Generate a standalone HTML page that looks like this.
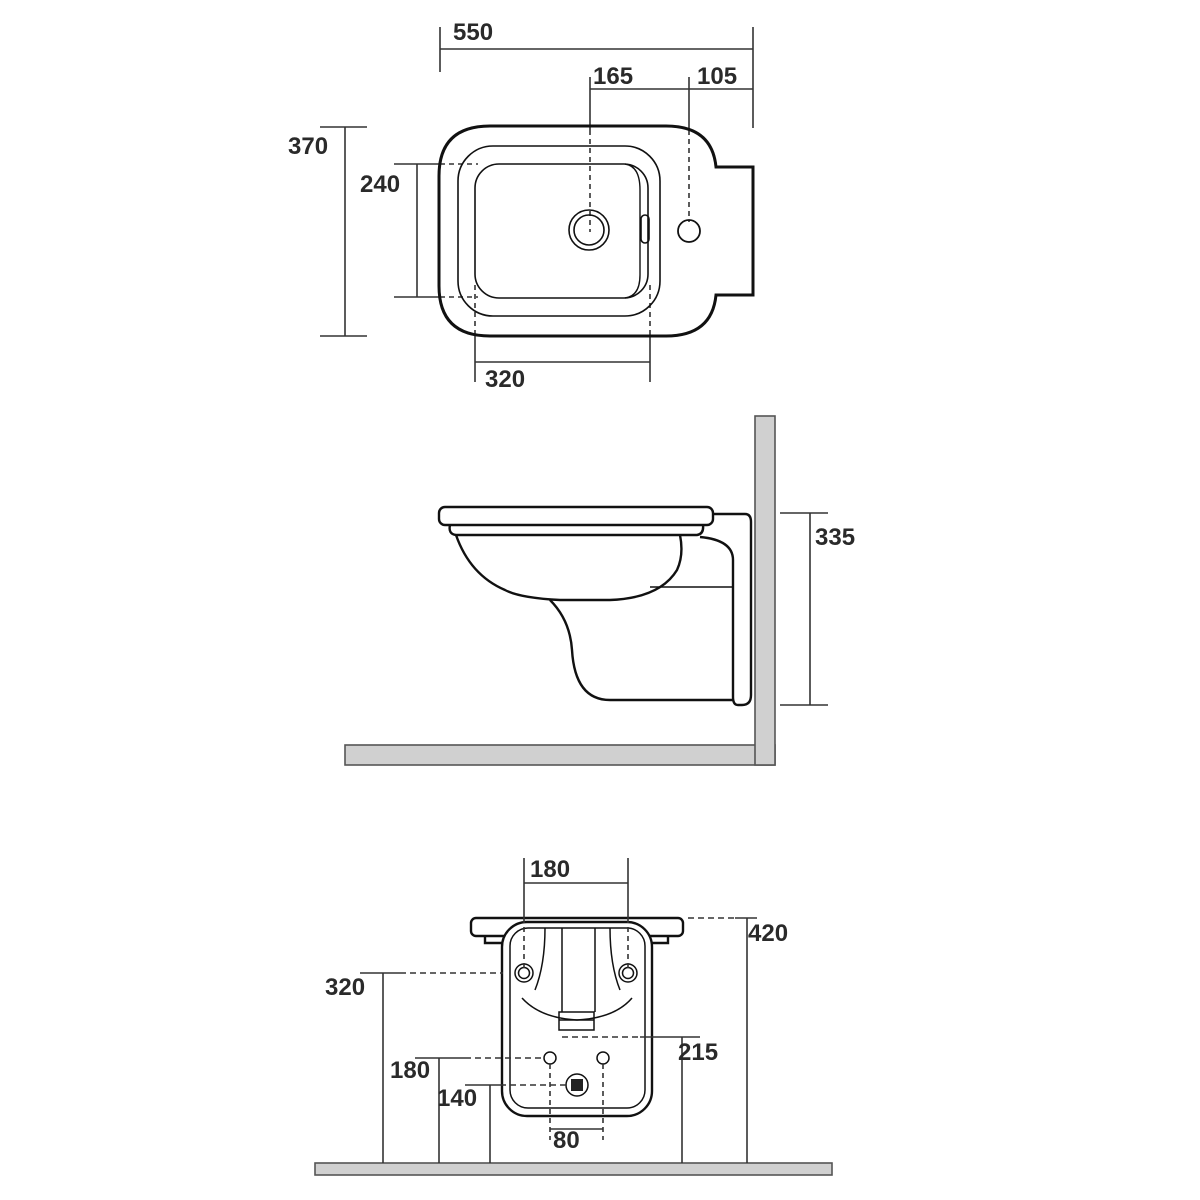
<!DOCTYPE html>
<html><head><meta charset="utf-8"><style>html,body{margin:0;padding:0;background:#fff}svg{display:block}text{font-family:"Liberation Sans",Arial,sans-serif;font-weight:bold;font-size:24px;fill:#2a2a2a}</style></head><body>
<svg width="1200" height="1200" viewBox="0 0 1200 1200" xmlns="http://www.w3.org/2000/svg">
<g fill="none" stroke="#333" stroke-width="1.6">
<line x1="440" y1="27" x2="440" y2="72"/><line x1="753" y1="27" x2="753" y2="128"/>
<line x1="440" y1="49" x2="753" y2="49"/>
<line x1="590" y1="89" x2="753" y2="89"/>
<line x1="590" y1="77" x2="590" y2="130"/><line x1="689" y1="77" x2="689" y2="130"/>
<line x1="590" y1="130" x2="590" y2="232" stroke-dasharray="5,4"/>
<line x1="689" y1="130" x2="689" y2="222" stroke-dasharray="5,4"/>
<line x1="345" y1="127" x2="345" y2="336"/>
<line x1="320" y1="127" x2="367" y2="127"/><line x1="320" y1="336" x2="367" y2="336"/>
<line x1="417" y1="164" x2="417" y2="297"/>
<line x1="394" y1="164" x2="440" y2="164"/><line x1="394" y1="297" x2="440" y2="297"/>
<line x1="440" y1="164" x2="478" y2="164" stroke-dasharray="5,4"/><line x1="440" y1="297" x2="478" y2="297" stroke-dasharray="5,4"/>
<line x1="475" y1="362" x2="650" y2="362"/>
<line x1="475" y1="336" x2="475" y2="382"/><line x1="650" y1="336" x2="650" y2="382"/>
<line x1="475" y1="285" x2="475" y2="336" stroke-dasharray="5,4"/><line x1="650" y1="285" x2="650" y2="336" stroke-dasharray="5,4"/>
</g>
<g fill="none" stroke="#111">
<path d="M490 126 H666 Q712 126 716 167 H753 V295 H716 Q712 336 666 336 H490 Q439 336 439 286 V176 Q439 126 490 126 Z" stroke-width="3"/>
<rect x="458" y="146" width="202" height="170" rx="35" stroke-width="1.6"/>
<rect x="475" y="164" width="173" height="134" rx="24" stroke-width="1.6"/>
<path d="M625 164 Q640 166 640 190 V275 Q640 296 625 298" stroke-width="1.4"/>
<circle cx="589" cy="230" r="20" stroke-width="1.6"/><circle cx="589" cy="230" r="15" stroke-width="1.6"/>
<rect x="641" y="215" width="8" height="28" rx="4" stroke-width="1.6"/>
<circle cx="689" cy="231" r="11" stroke-width="1.8"/>
</g>
<text x="453" y="40">550</text><text x="593" y="84">165</text><text x="697" y="84">105</text>
<text x="288" y="154">370</text><text x="360" y="192">240</text><text x="485" y="387">320</text>

<g fill="#d0d0d0" stroke="#555" stroke-width="1.6">
<rect x="345" y="745" width="430" height="20"/>
<rect x="755" y="416" width="20" height="349"/>
</g>
<g fill="none" stroke="#111" stroke-width="2.4">
<rect x="439" y="507" width="274" height="18" rx="6"/>
<path d="M450 525 Q448 534 456 535 H697 Q704 534 703 525"/>
<path d="M456 535 Q470 575 505 590 Q520 598 560 600 H610 Q660 598 677 570 Q684 555 680 535"/>
<path d="M713 514 H745 Q751 514 751 522 V695 Q751 705 742 705 H738 Q733 705 733 697"/>
<path d="M700 537 Q733 540 733 560 V697"/>
<line x1="650" y1="587" x2="733" y2="587" stroke-width="1.6"/>
<path d="M550 600 Q570 620 572 650 Q575 700 610 700 H733"/>
</g>
<g stroke="#333" stroke-width="1.6">
<line x1="810" y1="513" x2="810" y2="705"/>
<line x1="780" y1="513" x2="828" y2="513"/><line x1="780" y1="705" x2="828" y2="705"/>
</g>
<text x="815" y="545">335</text>

<rect x="315" y="1163" width="517" height="12" fill="#d0d0d0" stroke="#555" stroke-width="1.6"/>
<g fill="none" stroke="#111" stroke-width="2.4">
<rect x="471" y="918" width="212" height="18" rx="5"/>
<path d="M485 936 V943 H502 M668 936 V943 H652"/>
<rect x="502" y="922" width="150" height="194" rx="25" fill="#fff"/>
</g>
<g fill="none" stroke="#111" stroke-width="1.5">
<rect x="510" y="928" width="135" height="180" rx="18"/>
<path d="M545 928 Q545 965 535 990"/><path d="M610 928 Q610 965 620 990"/>
<line x1="562" y1="928" x2="562" y2="1012"/><line x1="595" y1="928" x2="595" y2="1012"/>
<path d="M522 998 Q540 1018 577 1020 Q615 1018 632 998"/>
<rect x="559" y="1012" width="35" height="18"/><line x1="559" y1="1020" x2="594" y2="1020"/>
<circle cx="524" cy="973" r="9"/><circle cx="524" cy="973" r="5.5"/>
<circle cx="628" cy="973" r="9"/><circle cx="628" cy="973" r="5.5"/>
<circle cx="550" cy="1058" r="6"/><circle cx="603" cy="1058" r="6"/>
<circle cx="577" cy="1085" r="11"/>
</g>
<rect x="571" y="1079" width="12" height="12" fill="#222"/>
<g fill="none" stroke="#333" stroke-width="1.6">
<line x1="524" y1="858" x2="524" y2="918"/><line x1="628" y1="858" x2="628" y2="918"/>
<line x1="524" y1="883" x2="628" y2="883"/>
<line x1="524" y1="918" x2="524" y2="970" stroke-dasharray="5,4"/><line x1="628" y1="918" x2="628" y2="970" stroke-dasharray="5,4"/>
<line x1="688" y1="918" x2="735" y2="918" stroke-dasharray="6,4"/><line x1="735" y1="918" x2="757" y2="918"/>
<line x1="747" y1="918" x2="747" y2="1163"/>
<line x1="360" y1="973" x2="400" y2="973"/><line x1="400" y1="973" x2="503" y2="973" stroke-dasharray="6,4"/>
<line x1="383" y1="973" x2="383" y2="1163"/>
<line x1="562" y1="1037" x2="640" y2="1037" stroke-dasharray="6,4"/><line x1="640" y1="1037" x2="700" y2="1037"/>
<line x1="682" y1="1037" x2="682" y2="1163"/>
<line x1="415" y1="1058" x2="465" y2="1058"/><line x1="465" y1="1058" x2="543" y2="1058" stroke-dasharray="6,4"/>
<line x1="439" y1="1058" x2="439" y2="1163"/>
<line x1="465" y1="1085" x2="500" y2="1085"/><line x1="500" y1="1085" x2="566" y2="1085" stroke-dasharray="6,4"/>
<line x1="490" y1="1085" x2="490" y2="1163"/>
<line x1="550" y1="1064" x2="550" y2="1140" stroke-dasharray="5,4"/><line x1="603" y1="1064" x2="603" y2="1140" stroke-dasharray="5,4"/>
<line x1="550" y1="1129" x2="603" y2="1129"/>
</g>
<text x="530" y="877">180</text><text x="748" y="941">420</text><text x="325" y="995">320</text>
<text x="678" y="1060">215</text><text x="390" y="1078">180</text><text x="437" y="1106">140</text><text x="553" y="1148">80</text>
</svg>
</body></html>
